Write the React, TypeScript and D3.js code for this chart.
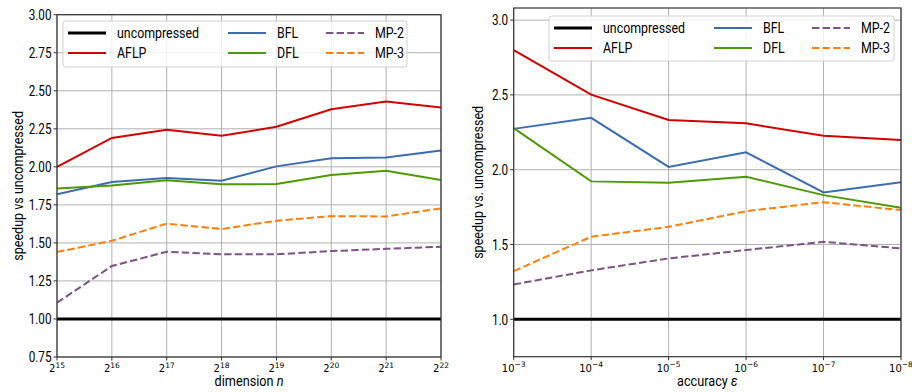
import React from "react";
import * as d3 from "d3";

const dimExps = [15, 16, 17, 18, 19, 20, 21, 22];
const accExps = [3, 4, 5, 6, 7, 8];

const leftUncompressed = [1, 1, 1, 1, 1, 1, 1, 1];
const leftAFLP = [2.0, 2.19, 2.243, 2.204, 2.263, 2.378, 2.43, 2.39];
const leftBFL = [1.82, 1.9, 1.926, 1.908, 2.003, 2.056, 2.062, 2.107];
const leftDFL = [1.858, 1.878, 1.911, 1.885, 1.887, 1.946, 1.974, 1.914];
const leftMP2 = [1.107, 1.348, 1.442, 1.425, 1.425, 1.446, 1.461, 1.475];
const leftMP3 = [1.44, 1.514, 1.627, 1.591, 1.646, 1.676, 1.674, 1.727];

const rightUncompressed = [1, 1, 1, 1, 1, 1];
const rightAFLP = [2.8, 2.502, 2.332, 2.31, 2.227, 2.198];
const rightBFL = [2.273, 2.347, 2.019, 2.116, 1.848, 1.917];
const rightDFL = [2.278, 1.922, 1.913, 1.953, 1.83, 1.745];
const rightMP2 = [1.233, 1.327, 1.407, 1.463, 1.518, 1.474];
const rightMP3 = [1.322, 1.552, 1.618, 1.723, 1.783, 1.73];

const leftYTicks = [0.75, 1.0, 1.25, 1.5, 1.75, 2.0, 2.25, 2.5, 2.75, 3.0];
const rightYTicks = [1.0, 1.5, 2.0, 2.5, 3.0];

const seriesNames = ["uncompressed", "AFLP", "BFL", "DFL", "MP-2", "MP-3"];
const seriesColors = ["#000000", "#d40000", "#3c6db0", "#4e9a06", "#7b5384", "#ff7f0e"];
const seriesWidths = [3, 2, 2, 2, 2, 2];
const seriesDashed = [false, false, false, false, true, true];

const condFont = "Roboto, sans-serif";
const mathFont = "'DejaVu Sans', sans-serif";

function CText(props: { x: number; y: number; size: number; sq: number; anchor?: string; rotate?: boolean; dy?: string; children: React.ReactNode }) {
  const rot = props.rotate ? " rotate(-90)" : "";
  return (
    <text transform={`translate(${props.x},${props.y})${rot} scale(${props.sq},1)`} textAnchor={props.anchor || "start"}
      dy={props.dy} fontFamily={condFont} fontSize={props.size} fill="#000">
      {props.children}
    </text>
  );
}

type PanelProps = {
  x0: number; x1: number; y0: number; y1: number;
  exps: number[]; base: string; negative: boolean;
  yDomain: [number, number]; yTicks: number[]; yFmt: (v: number) => string;
  data: number[][];
  xLabel: React.ReactNode; yLabel: string; yLabelX: number;
  legend: { x: number; y: number; w: number; h: number };
};

function Panel(p: PanelProps) {
  const xs = d3.scaleLinear().domain([p.exps[0], p.exps[p.exps.length - 1]]).range([p.x0, p.x1]);
  const ys = d3.scaleLinear().domain(p.yDomain).range([p.y1, p.y0]);
  const line = d3.line<number>().x((_, i) => xs(p.exps[i])).y((v) => ys(v));
  const clipId = `clip${Math.round(p.x0)}`;
  const lg = p.legend;
  const colX = [lg.x + 5, lg.x + 165, lg.x + 263];
  const textOff = 49;
  const rowY = [lg.y + 12, lg.y + 32];
  return (
    <g>
      <defs>
        <clipPath id={clipId}>
          <rect x={p.x0} y={p.y0} width={p.x1 - p.x0} height={p.y1 - p.y0} />
        </clipPath>
      </defs>
      {p.exps.map((e) => (
        <line key={"gx" + e} x1={xs(e)} x2={xs(e)} y1={p.y0} y2={p.y1} stroke="#b0b0b0" strokeWidth={1} />
      ))}
      {p.yTicks.map((t) => (
        <line key={"gy" + t} x1={p.x0} x2={p.x1} y1={ys(t)} y2={ys(t)} stroke="#b0b0b0" strokeWidth={1} />
      ))}
      <g clipPath={`url(#${clipId})`}>
        {p.data.map((d, i) => (
          <path key={"s" + i} d={line(d) || ""} fill="none" stroke={seriesColors[i]}
            strokeWidth={seriesWidths[i]} strokeDasharray={seriesDashed[i] ? "7.4,3.2" : undefined} />
        ))}
      </g>
      <rect x={p.x0} y={p.y0} width={p.x1 - p.x0} height={p.y1 - p.y0} fill="none" stroke="#333" strokeWidth={1.2} />
      {p.yTicks.map((t) => (
        <g key={"yt" + t}>
          <line x1={p.x0 - 3.5} x2={p.x0} y1={ys(t)} y2={ys(t)} stroke="#333" strokeWidth={1} />
          <CText x={p.x0 - 5.5} y={ys(t)} dy="0.35em" anchor="end" size={15} sq={0.78}>{p.yFmt(t)}</CText>
        </g>
      ))}
      {p.exps.map((e) => (
        <g key={"xt" + e}>
          <line x1={xs(e)} x2={xs(e)} y1={p.y1} y2={p.y1 + 3.5} stroke="#333" strokeWidth={1} />
          <text x={xs(e)} y={p.y1 + 15} textAnchor="middle" fontFamily={mathFont} fontSize={10} fill="#000">
            {p.base}
            <tspan fontSize={7.5} dy={-4.5}>{(p.negative ? "\u2212" : "") + e}</tspan>
          </text>
        </g>
      ))}
      <CText x={(p.x0 + p.x1) / 2} y={386} anchor="middle" size={15.5} sq={0.82}>{p.xLabel}</CText>
      <CText x={p.yLabelX} y={(p.y0 + p.y1) / 2} anchor="middle" size={15.5} sq={0.81} rotate>{p.yLabel}</CText>
      <rect x={lg.x} y={lg.y} width={lg.w} height={lg.h} rx={3} fill="#fff" fillOpacity={0.8} stroke="#d0d0d0" strokeWidth={1} />
      {seriesNames.map((name, i) => {
        const col = Math.floor(i / 2);
        const row = i % 2;
        const lx = colX[col];
        const ly = rowY[row];
        return (
          <g key={"lg" + i}>
            <line x1={lx} x2={lx + 38} y1={ly} y2={ly} stroke={seriesColors[i]} strokeWidth={seriesWidths[i]}
              strokeDasharray={seriesDashed[i] ? "7.4,3.2" : undefined} />
            <CText x={lx + textOff} y={ly} dy="0.3em" size={15.5} sq={0.8}>{name}</CText>
          </g>
        );
      })}
    </g>
  );
}

export default function App() {
  return (
    <svg width={912} height={392} style={{ position: "absolute", left: 0, top: 0, background: "#fff" }}>
      <Panel x0={57} x1={441} y0={14.7} y1={357} exps={dimExps} base="2" negative={false}
        yDomain={[0.75, 3.0]} yTicks={leftYTicks} yFmt={(v) => v.toFixed(2)}
        data={[leftUncompressed, leftAFLP, leftBFL, leftDFL, leftMP2, leftMP3]}
        xLabel={<>dimension <tspan fontStyle="italic">n</tspan></>}
        yLabel="speedup vs uncompressed" yLabelX={22.5}
        legend={{ x: 63, y: 21, w: 344, h: 46 }} />
      <Panel x0={513.7} x1={901} y0={8} y1={356.7} exps={accExps} base="10" negative={true}
        yDomain={[0.75, 3.081]} yTicks={rightYTicks} yFmt={(v) => v.toFixed(1)}
        data={[rightUncompressed, rightAFLP, rightBFL, rightDFL, rightMP2, rightMP3]}
        xLabel={<>accuracy <tspan fontStyle="italic">ε</tspan></>}
        yLabel="speedup vs. uncompressed" yLabelX={483}
        legend={{ x: 549, y: 16, w: 345, h: 45 }} />
    </svg>
  );
}
